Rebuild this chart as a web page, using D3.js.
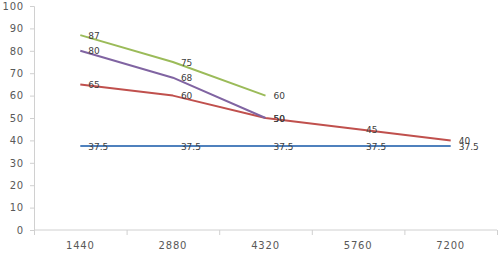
<!DOCTYPE html>
<html><head><meta charset="utf-8">
<script src="https://cdn.jsdelivr.net/npm/d3@7"></script>
<style>body{margin:0;background:#fff}svg{display:block}</style>
</head><body>
<svg id="c" width="500" height="261"></svg>
<script>
const xCategories = [1440, 2880, 4320, 5760, 7200];
const yTicks = [0, 10, 20, 30, 40, 50, 60, 70, 80, 90, 100];
const greenX = [1440, 2880, 4320];
const greenY = [87, 75, 60];
const purpleX = [1440, 2880, 4320];
const purpleY = [80, 68, 50];
const redX = [1440, 2880, 4320, 5760, 7200];
const redY = [65, 60, 50, 45, 40];
const blueX = [1440, 2880, 4320, 5760, 7200];
const blueY = [37.5, 37.5, 37.5, 37.5, 37.5];

const svg = d3.select('#c');
const x = d3.scaleLinear().domain([720, 7920]).range([34, 497]);
const y = d3.scaleLinear().domain([0, 100]).range([230, 6]);
const font = 'DejaVu Sans, Verdana, sans-serif';

// y axis
const ya = svg.append('g').attr('transform','translate(34,0)')
  .call(d3.axisLeft(y).tickValues(yTicks).tickSize(4).tickPadding(6));
ya.select('.domain').attr('stroke','#d0d0d0');
ya.selectAll('.tick line').attr('stroke','#d0d0d0');
ya.selectAll('.tick text').attr('fill','#595959').attr('font-size',10)
  .attr('letter-spacing','0.8px').attr('font-family',font);

// x axis: tick marks at boundaries, labels at category centers
const boundaries = [720].concat(xCategories.map(v => v + 720));
const xa = svg.append('g').attr('transform','translate(0,230)')
  .call(d3.axisBottom(x).tickValues(boundaries).tickSize(5).tickFormat(''));
xa.select('.domain').attr('stroke','#d0d0d0').attr('d','M34,0H497');
xa.selectAll('.tick line').attr('stroke','#d0d0d0');
svg.append('g').selectAll('text').data(xCategories).join('text')
  .attr('x', d => x(d)).attr('y', 249).attr('text-anchor','middle')
  .attr('fill','#595959').attr('font-size',10).attr('letter-spacing','0.8px')
  .attr('font-family',font)
  .text(d => d);

const series = [
  {xs: redX, ys: redY, color: '#C0504D'},
  {xs: blueX, ys: blueY, color: '#4F81BD'},
  {xs: purpleX, ys: purpleY, color: '#8064A2'},
  {xs: greenX, ys: greenY, color: '#9BBB59'}
];
const line = d3.line().x(d => x(d[0])).y(d => y(d[1]));
series.forEach(s => {
  const pts = s.xs.map((v,i) => [v, s.ys[i]]);
  svg.append('path').datum(pts).attr('d', line)
    .attr('fill','none').attr('stroke', s.color).attr('stroke-width', 2)
    .attr('stroke-linejoin','round');
});
series.forEach(s => {
  const pts = s.xs.map((v,i) => [v, s.ys[i]]);
  svg.append('g').selectAll('text').data(pts).join('text')
    .attr('x', d => x(d[0]) + 8).attr('y', d => y(d[1]) + 3.5)
    .attr('fill','#404040').attr('font-size',9).attr('font-family',font)
    .text(d => d[1]);
});
</script>
</body></html>
